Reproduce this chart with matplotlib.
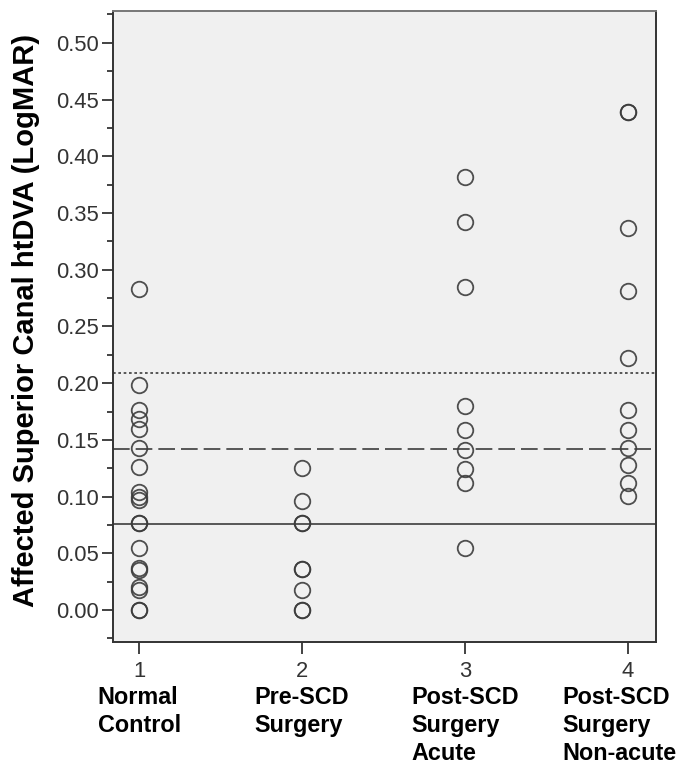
import numpy as np
import matplotlib
matplotlib.use("Agg")
import matplotlib.pyplot as plt
from matplotlib.ticker import MultipleLocator, FormatStrFormatter

# ------------------------------ DATA ------------------------------ #

group_ids = [1, 2, 3, 4]
group_names = [
    "Normal\nControl",
    "Pre-SCD\nSurgery",
    "Post-SCD\nSurgery\nAcute",
    "Post-SCD\nSurgery\nNon-acute",
]

normal_control = [0.283, 0.198, 0.176, 0.168, 0.160, 0.143, 0.126, 0.104,
                  0.100, 0.097, 0.077, 0.077, 0.055, 0.037, 0.035, 0.020,
                  0.018, 0.000, 0.000]
pre_scd = [0.125, 0.096, 0.077, 0.077, 0.036, 0.036, 0.018, 0.000, 0.000]
post_acute = [0.382, 0.342, 0.285, 0.180, 0.159, 0.141, 0.124, 0.112, 0.055]
post_nonacute = [0.439, 0.439, 0.337, 0.281, 0.222, 0.176, 0.159, 0.143,
                 0.128, 0.112, 0.101]

# reference lines (solid, dashed, dotted)
ref_solid = 0.0756
ref_dashed = 0.142
ref_dotted = 0.2087

# ------------------------------------------------------------------ #

plt.rcParams["font.family"] = ["Liberation Sans", "DejaVu Sans"]

fig = plt.figure(figsize=(6.8, 7.69), dpi=100)
ax = fig.add_axes([0.1657, 0.165, 0.7986, 0.8207])
ax.set_facecolor("#f0f0f0")

line_col = "#3c3c3c"
groups = [normal_control, pre_scd, post_acute, post_nonacute]
for gid, vals in zip(group_ids, groups):
    ax.plot([gid] * len(vals), vals, linestyle="none", marker="o",
            markersize=11.2, markerfacecolor="none",
            markeredgecolor=line_col, markeredgewidth=1.3, alpha=0.9)

ax.axhline(ref_solid, color=line_col, lw=1.2)
ax.axhline(ref_dashed, color=line_col, lw=1.2, dashes=(10, 3.6))
ax.axhline(ref_dotted, color=line_col, lw=1.2, dashes=(1.6, 1.6))

ax.set_xlim(0.837, 4.17)
ax.set_ylim(-0.0282, 0.528)

ax.yaxis.set_major_locator(MultipleLocator(0.05))
ax.yaxis.set_minor_locator(MultipleLocator(0.025))
ax.yaxis.set_major_formatter(FormatStrFormatter("%.2f"))
ax.set_xticks(group_ids)
ax.set_xticklabels([str(g) for g in group_ids])

ax.tick_params(axis="y", which="major", length=8, width=1.2, pad=2,
               labelsize=15.8, colors="#222222", labelcolor="#333333")
ax.tick_params(axis="y", which="minor", length=4.5, width=1.2,
               colors="#222222")
ax.tick_params(axis="x", which="major", length=8.5, width=1.2, pad=5,
               labelsize=15.8, colors="#222222", labelcolor="#333333")

for side in ["left", "bottom", "right"]:
    ax.spines[side].set_color("#333333")
    ax.spines[side].set_linewidth(1.4)
ax.spines["top"].set_color("#777777")
ax.spines["top"].set_linewidth(1.4)

ax.set_ylabel("Affected Superior Canal htDVA (LogMAR)", fontsize=21,
              fontweight="bold")
ax.yaxis.set_label_coords(-0.134, 0.509)

# category names under the tick numbers
shifts = [0, 0, 0, -6]
for gid, name, dx in zip(group_ids, group_names, shifts):
    ax.annotate(name, xy=(gid, 0), xycoords=("data", "axes fraction"),
                xytext=(dx, -31.5), textcoords="offset points",
                ha="center", va="top", multialignment="left",
                fontsize=16.8, fontweight="bold", linespacing=1.28,
                annotation_clip=False)

fig.savefig("out.png", dpi=100)
